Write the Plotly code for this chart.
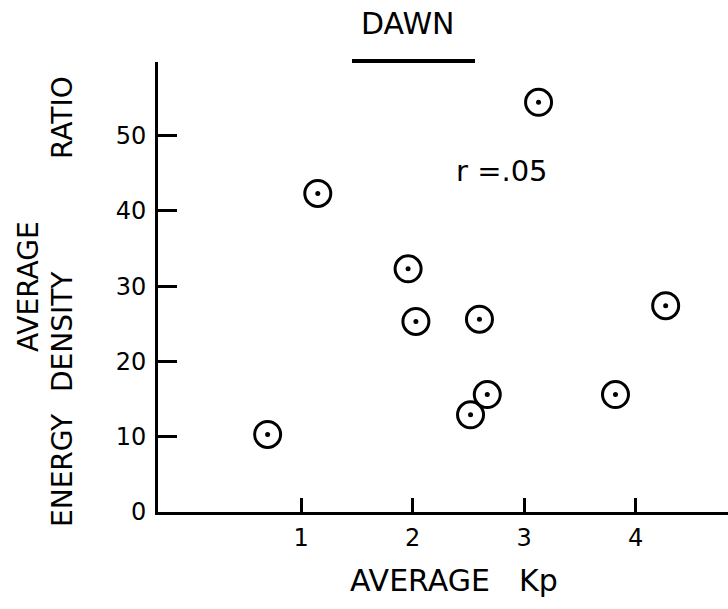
import plotly.graph_objects as go

# Data
kp = [0.70, 1.15, 1.96, 2.03, 3.13, 2.60, 2.67, 2.52, 3.82, 4.27]
ratio = [10.3, 42.3, 32.3, 25.3, 54.4, 25.6, 15.6, 12.9, 15.6, 27.4]

x_ticks = [1, 2, 3, 4]
x_tick_labels = ["1", "2", "3", "4"]
y_ticks = [0, 10, 20, 30, 40, 50]
y_tick_labels = ["0", "10", "20", "30", "40", "50"]

title_text = "DAWN"
r_text = "r =.05"

FONT = "DejaVu Sans"
W, H = 728, 609
ML, MR, MT, MB = 158, 0, 62, 97

fig = go.Figure()
fig.add_trace(go.Scatter(
    x=kp, y=ratio, mode="markers",
    marker=dict(symbol="circle-open", size=26, color="black",
                line=dict(width=3, color="black")),
    hoverinfo="skip", showlegend=False, cliponaxis=False))
fig.add_trace(go.Scatter(
    x=kp, y=ratio, mode="markers",
    marker=dict(symbol="circle", size=5, color="black"),
    hoverinfo="skip", showlegend=False, cliponaxis=False))

pw = W - ML - MR
ph = H - MT - MB

def px(xp):
    return (xp - ML) / pw

def py(yp):
    return (H - MB - yp) / ph

def ann(text, x, y, size, angle=0):
    return dict(text=text, x=px(x), y=py(y), xref="paper", yref="paper",
                xanchor="center", yanchor="middle", textangle=angle,
                showarrow=False, font=dict(family=FONT, size=size, color="black"))

annotations = [
    ann(title_text, 408, 23, 30),
    dict(text=r_text, x=2.80, y=45.3, xref="x", yref="y",
         xanchor="center", yanchor="middle",
         showarrow=False, font=dict(family=FONT, size=29, color="black")),
    ann("AVERAGE", 420, 580, 30),
    ann("Kp", 538, 580, 30),
    ann("AVERAGE", 28, 287, 28, -90),
    ann("ENERGY", 62, 470, 28, -90),
    ann("DENSITY", 62, 332, 28, -90),
    ann("RATIO", 62, 118, 28, -90),
]

shapes = [
    dict(type="line", xref="paper", yref="paper",
         x0=px(352), x1=px(475), y0=py(61), y1=py(61),
         line=dict(color="black", width=4)),
]

fig.update_layout(
    width=W, height=H,
    margin=dict(l=ML, r=MR, t=MT, b=MB, pad=0),
    paper_bgcolor="white", plot_bgcolor="white",
    annotations=annotations, shapes=shapes,
    xaxis=dict(range=[-0.283, 4.829], tickvals=x_ticks, ticktext=x_tick_labels,
               ticks="inside", ticklen=14, tickwidth=2.5, tickcolor="black",
               showline=True, linewidth=3, linecolor="black",
               showgrid=False, zeroline=False, ticklabelstandoff=2,
               tickfont=dict(family=FONT, size=24, color="black")),
    yaxis=dict(range=[0, 59.76], tickvals=y_ticks, ticktext=y_tick_labels,
               ticks="inside", ticklen=19, tickwidth=2.5, tickcolor="black",
               showline=True, linewidth=3, linecolor="black",
               showgrid=False, zeroline=False, ticklabelstandoff=4,
               tickfont=dict(family=FONT, size=24, color="black")),
)

fig.write_html("out.html", config={"displayModeBar": False},
               post_script="document.body.style.margin='0';")
